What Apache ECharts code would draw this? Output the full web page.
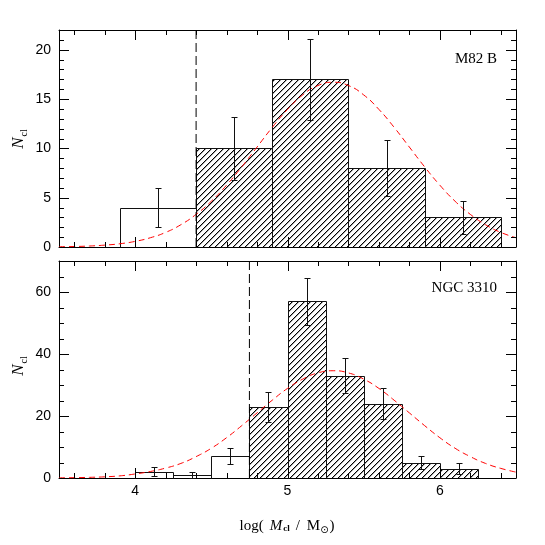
<!DOCTYPE html>
<html><head><meta charset="utf-8">
<script src="https://cdn.jsdelivr.net/npm/echarts@6/dist/echarts.min.js"></script>
<style>html,body{margin:0;padding:0;background:#fff}#c{width:545px;height:545px}</style>
</head><body><div id="c"></div>
<script>
// ---------------- data ----------------
const topBinLo  = [3.9, 4.4, 4.9, 5.4, 5.9];
const topBinHi  = [4.4, 4.9, 5.4, 5.9, 6.4];
const topCounts = [4, 10, 17, 8, 3];
const topErrLo  = [2.0, 6.8, 12.9, 5.2, 1.3];
const topErrHi  = [6.0, 13.2, 21.1, 10.8, 4.7];
const topLimit  = 4.4;
const topLabel  = 'M82 B';

const botBinLo  = [4.0, 4.25, 4.5, 4.75, 5.0, 5.25, 5.5, 5.75, 6.0];
const botBinHi  = [4.25, 4.5, 4.75, 5.0, 5.25, 5.5, 5.75, 6.0, 6.25];
const botCounts = [2, 1, 7, 23, 57, 33, 24, 5, 3];
const botErrLo  = [0.6, 0.0, 4.4, 18.2, 49.5, 27.3, 19.1, 2.8, 1.3];
const botErrHi  = [3.4, 2.0, 9.6, 27.8, 64.5, 38.7, 28.9, 7.2, 4.7];
const botLimit  = 4.75;
const botLabel  = 'NGC 3310';

const fitX    = [3.5,3.6,3.7,3.8,3.9,4.0,4.1,4.2,4.3,4.4,4.5,4.6,4.7,4.8,4.9,5.0,5.1,5.2,5.3,5.4,5.5,5.6,5.7,5.8,5.9,6.0,6.1,6.2,6.3,6.4,6.5];
const topFitY = [0.03,0.05,0.10,0.19,0.33,0.57,0.94,1.48,2.26,3.31,4.64,6.27,8.13,10.13,12.13,13.95,15.42,16.37,16.70,16.37,15.42,13.95,12.13,10.13,8.13,6.27,4.64,3.31,2.26,1.48,0.94];
const botFitY = [0.05,0.11,0.21,0.38,0.69,1.3,2.1,3.2,4.7,6.9,9.6,13.0,16.9,21.0,25.1,28.9,31.9,33.9,34.6,33.9,31.9,28.9,25.1,21.0,16.9,13.0,9.6,6.9,4.7,3.1,1.9];

const xMin = 3.5, xMax = 6.5;
const xMajor = [4, 5, 6];
const xMinor = [3.6,3.8,4.2,4.4,4.6,4.8,5.2,5.4,5.6,5.8,6.2,6.4];
const topYMax = 22;
const topYMajor = [0, 5, 10, 15, 20];
const topYMinor = [1,2,3,4,6,7,8,9,11,12,13,14,16,17,18,19,21];
const botYMax = 70;
const botYMajor = [0, 20, 40, 60];
const botYMinor = [5,10,15,25,30,35,45,50,55,65];

// ---------------- styling helpers ----------------
const pc = document.createElement('canvas'); pc.width = 6; pc.height = 6;
const pg = pc.getContext('2d');
pg.fillStyle = '#000';
for (let i = 0; i < 6; i++) pg.fillRect(i, 5 - i, 1, 1);
pg.fillStyle = 'rgba(0,0,0,0.35)';
for (let i = 0; i < 6; i++) pg.fillRect((i + 1) % 6, 5 - i, 1, 1);
const hatch = { image: pc, repeat: 'repeat' };

const tickFont = { color: '#000', fontFamily: 'Liberation Sans', fontSize: 14 };
const MAJOR_LEN = 10, MINOR_LEN = 5;

function xAxes(grid, labels) {
  const base = { gridIndex: grid, type: 'value', min: xMin, max: xMax, splitLine: { show: false },
    axisTick: { show: false }, axisLine: { show: true, onZero: false, lineStyle: { color: '#000', width: 1 } } };
  return [
    Object.assign({}, base, { position: 'bottom',
      axisLabel: labels ? Object.assign({ show: true, margin: 6, customValues: xMajor }, tickFont) : { show: false } }),
    Object.assign({}, base, { position: 'top', axisLabel: { show: false } })
  ];
}
function yAxes(grid, max, major) {
  const base = { gridIndex: grid, type: 'value', min: 0, max: max, splitLine: { show: false },
    axisTick: { show: false }, axisLine: { show: true, onZero: false, lineStyle: { color: '#000', width: 1 } } };
  return [
    Object.assign({}, base, { position: 'left',
      axisLabel: Object.assign({ show: true, margin: 8, customValues: major }, tickFont) }),
    Object.assign({}, base, { position: 'right', axisLabel: { show: false } })
  ];
}

// tick marks drawn from tick values through the axis scales
function tickItem(params, api) {
  const dir = api.value(0), v = api.value(1), len = api.value(2);
  const cs = params.coordSys;
  const st = { stroke: '#000', lineWidth: 1 };
  if (dir === 0) {
    const px = Math.round(api.coord([v, 0])[0]) + 0.5;
    const yb = cs.y + cs.height, yt = cs.y;
    return { type: 'group', children: [
      { type: 'line', shape: { x1: px, y1: yb, x2: px, y2: yb - len }, style: st },
      { type: 'line', shape: { x1: px, y1: yt, x2: px, y2: yt + len }, style: st }
    ] };
  } else {
    const py = Math.round(api.coord([xMin, v])[1]) + 0.5;
    const xl = cs.x, xr = cs.x + cs.width;
    return { type: 'group', children: [
      { type: 'line', shape: { x1: xl, y1: py, x2: xl + len, y2: py }, style: st },
      { type: 'line', shape: { x1: xr, y1: py, x2: xr - len, y2: py }, style: st }
    ] };
  }
}

function histItem(params, api) {
  const lo = api.value(0), hi = api.value(1), n = api.value(2), h = api.value(3);
  const p0 = api.coord([lo, 0]), p1 = api.coord([hi, n]);
  const x0 = Math.round(p0[0]) + 0.5, x1 = Math.round(p1[0]) + 0.5;
  const y0 = Math.round(p0[1]) + 0.5, y1 = Math.round(p1[1]) + 0.5;
  const ch = [];
  if (h) ch.push({ type: 'rect', shape: { x: x0, y: y1, width: x1 - x0, height: y0 - y1 }, style: { fill: hatch, stroke: null } });
  ch.push({ type: 'polyline', shape: { points: [[x0, y0], [x0, y1], [x1, y1], [x1, y0]] }, style: { stroke: '#111', lineWidth: 1, fill: null } });
  return { type: 'group', children: ch };
}
function errItem(params, api) {
  const x = api.value(0), lo = api.value(1), hi = api.value(2);
  const a = api.coord([x, lo]), b = api.coord([x, hi]);
  const xx = Math.round(a[0]) + 0.5, ya = Math.round(a[1]) + 0.5, yb = Math.round(b[1]) + 0.5;
  const st = { stroke: '#111', lineWidth: 1 };
  return { type: 'group', children: [
    { type: 'line', shape: { x1: xx, y1: ya, x2: xx, y2: yb }, style: st },
    { type: 'line', shape: { x1: xx - 3, y1: ya, x2: xx + 3, y2: ya }, style: st },
    { type: 'line', shape: { x1: xx - 3, y1: yb, x2: xx + 3, y2: yb }, style: st }
  ] };
}

function panelSeries(ax, lo, hi, counts, eLo, eHi, limit, ymax, fitY, yMajor, yMinor) {
  const hist = lo.map((v, i) => [v, hi[i], counts[i], v >= limit ? 1 : 0]);
  const errs = lo.map((v, i) => [(v + hi[i]) / 2, eLo[i], eHi[i]]);
  const ticks = xMajor.map(v => [0, v, MAJOR_LEN])
    .concat(xMinor.map(v => [0, v, MINOR_LEN]))
    .concat(yMajor.map(v => [1, v, MAJOR_LEN]))
    .concat(yMinor.map(v => [1, v, MINOR_LEN]));
  return [
    { type: 'custom', xAxisIndex: ax, yAxisIndex: ax, renderItem: histItem, data: hist,
      encode: { x: [0, 1], y: 2 }, z: 2, silent: true },
    { type: 'line', xAxisIndex: ax, yAxisIndex: ax, data: fitX.map((x, i) => [x, fitY[i]]),
      showSymbol: false, smooth: true, lineStyle: { color: '#ff0000', width: 1, type: [6, 4] }, z: 3, silent: true },
    { type: 'custom', xAxisIndex: ax, yAxisIndex: ax, renderItem: errItem, data: errs,
      encode: { x: 0, y: [1, 2] }, z: 4, silent: true },
    { type: 'line', xAxisIndex: ax, yAxisIndex: ax, data: [[limit, 0], [limit, ymax]],
      showSymbol: false, lineStyle: { color: '#000', width: 1, type: [9, 4] }, z: 5, silent: true },
    { type: 'custom', xAxisIndex: ax, yAxisIndex: ax, renderItem: tickItem, data: ticks,
      encode: { x: -1, y: -1 }, z: 6, silent: true, clip: false }
  ];
}

// ---------------- text helpers ----------------
const mctx = document.createElement('canvas').getContext('2d');
function tw(t, font) { mctx.font = font; return mctx.measureText(t).width; }

function nclLabel(cx, cy) {
  const fN = 'italic 17px "Liberation Serif"', fS = '10px "Liberation Serif"';
  const wN = tw('N', fN), wS = tw('cl', fS);
  const total = wN + 1 + wS;
  return { type: 'group', x: cx, y: cy + total / 2, rotation: Math.PI / 2, children: [
    { type: 'text', x: 0, y: 0, style: { text: 'N', font: fN, fill: '#000', align: 'left', verticalAlign: 'middle' } },
    { type: 'text', x: wN + 1, y: 5, style: { text: 'cl', font: fS, fill: '#000', align: 'left', verticalAlign: 'middle' } }
  ] };
}

function xTitle(cx, baseY) {
  const fR = '15px "Liberation Serif"', fI = 'italic 15px "Liberation Serif"', fS = 'bold 9px "Liberation Serif"', fS2 = '10px "DejaVu Sans"';
  const parts = [
    { t: 'log(', f: fR, dy: 0, gap: 6 },
    { t: 'M', f: fI, dy: 0, gap: 1 },
    { t: 'cl', f: fS, dy: 3, gap: 6 },
    { t: '/', f: fR, dy: 0, gap: 7 },
    { t: 'M', f: fR, dy: 0, gap: 0 },
    { t: '⊙', f: fS2, dy: 4, gap: 1 },
    { t: ')', f: fR, dy: 0, gap: 0 }
  ];
  let total = 0;
  parts.forEach(p => { p.w = tw(p.t, p.f); total += p.w + p.gap; });
  let x = cx - total / 2;
  const ch = [];
  parts.forEach(p => {
    ch.push({ type: 'text', x: x, y: baseY - 5 + p.dy, style: { text: p.t, font: p.f, fill: '#000', align: 'left', verticalAlign: 'middle' } });
    x += p.w + p.gap;
  });
  return { type: 'group', children: ch };
}

// ---------------- chart ----------------
const chart = echarts.init(document.getElementById('c'), null, { renderer: 'canvas' });
chart.setOption({
  animation: false,
  backgroundColor: '#fff',
  grid: [
    { left: 59, top: 30, width: 457, height: 217 },
    { left: 59, top: 261, width: 457, height: 217 }
  ],
  xAxis: xAxes(0, false).concat(xAxes(1, true)),
  yAxis: yAxes(0, topYMax, topYMajor).concat(yAxes(1, botYMax, botYMajor)),
  series: panelSeries(0, topBinLo, topBinHi, topCounts, topErrLo, topErrHi, topLimit, topYMax, topFitY, topYMajor, topYMinor)
    .concat(panelSeries(2, botBinLo, botBinHi, botCounts, botErrLo, botErrHi, botLimit, botYMax, botFitY, botYMajor, botYMinor)),
  graphic: [
    { type: 'text', right: 48, top: 52, style: { text: topLabel, font: '15px "Liberation Serif"', fill: '#000' } },
    { type: 'text', right: 48, top: 281, style: { text: botLabel, font: '15px "Liberation Serif"', fill: '#000' } },
    nclLabel(19, 139),
    nclLabel(19, 366),
    xTitle(287, 531)
  ]
});
</script>
</body></html>
